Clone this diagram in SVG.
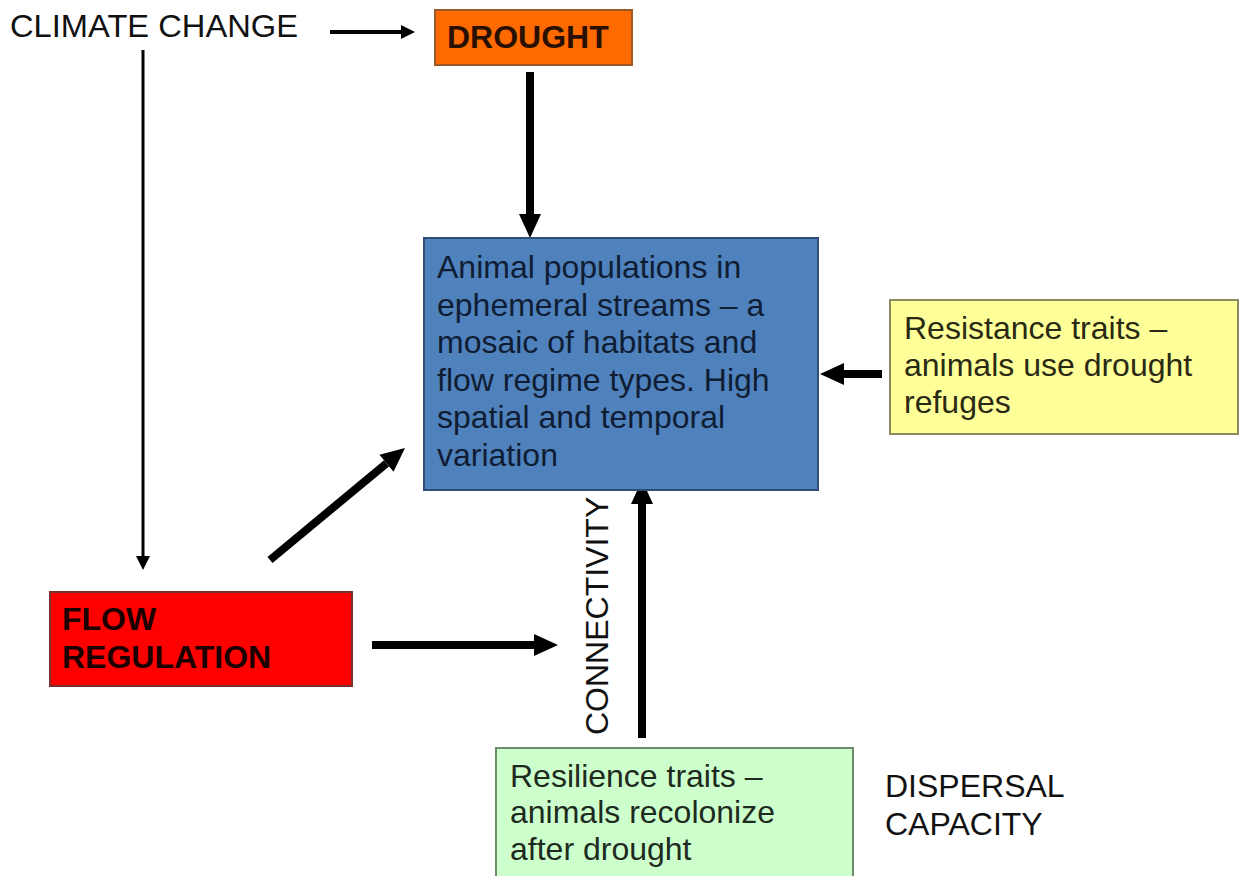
<svg xmlns="http://www.w3.org/2000/svg" width="1240" height="876" viewBox="0 0 1240 876">
<style>
.t{font-family:"Liberation Sans",Arial,sans-serif;font-size:32px}
.b{font-weight:bold}
.ln{stroke:#000;fill:none}
</style>
<defs>
<marker id="big" markerUnits="userSpaceOnUse" markerWidth="26" markerHeight="24" refX="0" refY="11" orient="auto" overflow="visible">
<path d="M0,0 L24,11 L0,22 Z" fill="#000"/>
</marker>
<marker id="small" markerUnits="userSpaceOnUse" markerWidth="16" markerHeight="14" refX="0" refY="7" orient="auto" overflow="visible">
<path d="M0,0 L14,7 L0,14 Z" fill="#000"/>
</marker>
</defs>
<rect width="1240" height="876" fill="#fff"/>
<g id="connectors">
<line class="ln" x1="330" y1="32" x2="401" y2="32" stroke-width="4" marker-end="url(#small)"/>
<line class="ln" x1="143" y1="50" x2="143" y2="556" stroke-width="3" marker-end="url(#small)"/>
<line class="ln" x1="530" y1="72" x2="530" y2="214" stroke-width="8" marker-end="url(#big)"/>
<line class="ln" x1="882" y1="374" x2="844" y2="374" stroke-width="8" marker-end="url(#big)"/>
<line class="ln" x1="270" y1="560" x2="386.5" y2="463.3" stroke-width="8" marker-end="url(#big)"/>
<line class="ln" x1="372" y1="645" x2="534" y2="645" stroke-width="8" marker-end="url(#big)"/>
<line class="ln" x1="642" y1="738" x2="642" y2="504" stroke-width="8" marker-end="url(#big)"/>
</g>
<g id="climate">
<text class="t" x="10" y="37" textLength="288" lengthAdjust="spacingAndGlyphs" fill="#111">CLIMATE CHANGE</text>
</g>
<g id="drought">
<rect x="435" y="10" width="197" height="55" fill="#FF6A00" stroke="#9a5a2a" stroke-width="2"/>
<text class="t b" x="447" y="48" fill="#2a1000">DROUGHT</text>
</g>
<g id="populations">
<rect x="424" y="238" width="394" height="252" fill="#4F81BD" stroke="#2f4f78" stroke-width="2"/>
<text class="t" fill="#0f1d33">
<tspan x="437" y="278">Animal populations in</tspan>
<tspan x="437" y="316">ephemeral streams – a</tspan>
<tspan x="437" y="353">mosaic of habitats and</tspan>
<tspan x="437" y="391">flow regime types. High</tspan>
<tspan x="437" y="428">spatial and temporal</tspan>
<tspan x="437" y="466">variation</tspan>
</text>
</g>
<g id="resistance">
<rect x="890" y="300" width="348" height="134" fill="#FFFF99" stroke="#8a8a60" stroke-width="2"/>
<text class="t" fill="#2a2a14">
<tspan x="904" y="339">Resistance traits –</tspan>
<tspan x="904" y="376">animals use drought</tspan>
<tspan x="904" y="413">refuges</tspan>
</text>
</g>
<g id="flowreg">
<rect x="50" y="592" width="302" height="94" fill="#FF0000" stroke="#7a3030" stroke-width="2"/>
<text class="t b" fill="#1a0000">
<tspan x="62" y="630">FLOW</tspan>
<tspan x="62" y="668">REGULATION</tspan>
</text>
</g>
<g id="connectivity">
<text class="t" transform="translate(608,735) rotate(-90)" fill="#111">CONNECTIVITY</text>
</g>
<g id="resilience">
<rect x="496" y="748" width="357" height="140" fill="#CCFFCC" stroke="#6b8b6b" stroke-width="2"/>
<text class="t" fill="#1e2a1e">
<tspan x="510" y="787">Resilience traits –</tspan>
<tspan x="510" y="823">animals recolonize</tspan>
<tspan x="510" y="860">after drought</tspan>
</text>
</g>
<g id="dispersal">
<text class="t" fill="#111">
<tspan x="885" y="797">DISPERSAL</tspan>
<tspan x="885" y="835">CAPACITY</tspan>
</text>
</g>
</svg>
